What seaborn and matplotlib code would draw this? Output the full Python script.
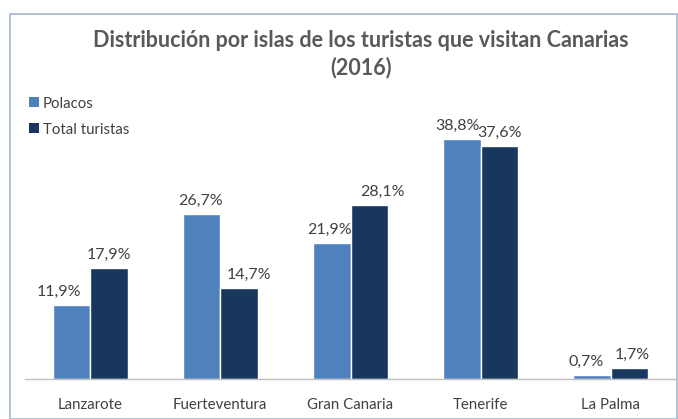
import matplotlib
matplotlib.use("Agg")
import matplotlib.pyplot as plt
import seaborn as sns
import pandas as pd
from matplotlib.patches import Rectangle, Patch

islas = ["Lanzarote", "Fuerteventura", "Gran Canaria", "Tenerife", "La Palma"]
polacos = [11.9, 26.7, 21.9, 38.8, 0.7]
total = [17.9, 14.7, 28.1, 37.6, 1.7]
series = ["Polacos", "Total turistas"]
colors = ["#4F81BD", "#17375E"]
title = "Distribución por islas de los turistas que visitan Canarias\n(2016)"

# horizontal nudges of the data labels (pixels), as placed in the original
label_dx = [[-12, -1, -2, -5, -6], [0, 10, 13, 0, 3]]

df = pd.DataFrame({
    "isla": islas * 2,
    "valor": polacos + total,
    "serie": [series[0]] * len(islas) + [series[1]] * len(islas),
})

sns.set_theme(style="white")
plt.rcParams["font.family"] = ["Lato", "DejaVu Sans"]

W, H = 678, 419
fig = plt.figure(figsize=(W / 100, H / 100), dpi=100)
ax = fig.add_axes([25 / W, (H - 379) / H, 651 / W, 278.6 / H])

sns.barplot(data=df, x="isla", y="valor", hue="serie", palette=colors,
            width=0.575, saturation=1, ax=ax, legend=False)
ax.set_ylim(0, 45)
ax.set_xlim(-0.5, len(islas) - 0.5)

for ci, cont in enumerate(ax.containers):
    for bi, bar in enumerate(cont):
        v = bar.get_height()
        ax.annotate(f"{v:.1f}".replace(".", ",") + "%",
                    (bar.get_x() + bar.get_width() / 2, v),
                    xytext=(label_dx[ci][bi] * 0.72, 4.5), textcoords="offset points",
                    ha="center", va="bottom", fontsize=11.5, color="#404040")

ax.set_xlabel("")
ax.set_ylabel("")
ax.set_yticks([])
ax.tick_params(axis="x", length=0, pad=14, labelsize=10.8, labelcolor="#404040")
for s in ["top", "right", "left"]:
    ax.spines[s].set_visible(False)
ax.spines["bottom"].set_color("#BFBFBF")
ax.spines["bottom"].set_linewidth(1.0)

fig.text(361 / W, 1 - 54 / H, title, ha="center", va="center",
         fontsize=15.5, fontweight="bold", color="#595959", linespacing=1.3)

handles = [Patch(facecolor=c, edgecolor="none") for c in colors]
fig.legend(handles, series, loc="upper left", bbox_to_anchor=(15 / W, 1 - 83 / H),
           frameon=False, fontsize=10.8, handlelength=0.7, handleheight=0.7,
           handletextpad=0.25, labelspacing=0.8, labelcolor="#404040")

fig.patches.append(Rectangle((10 / W, 0), (W - 11) / W, (H - 14) / H,
                             transform=fig.transFigure, fill=False,
                             edgecolor="#A6B8D0", linewidth=1.2))

fig.savefig("out.png", dpi=100)
